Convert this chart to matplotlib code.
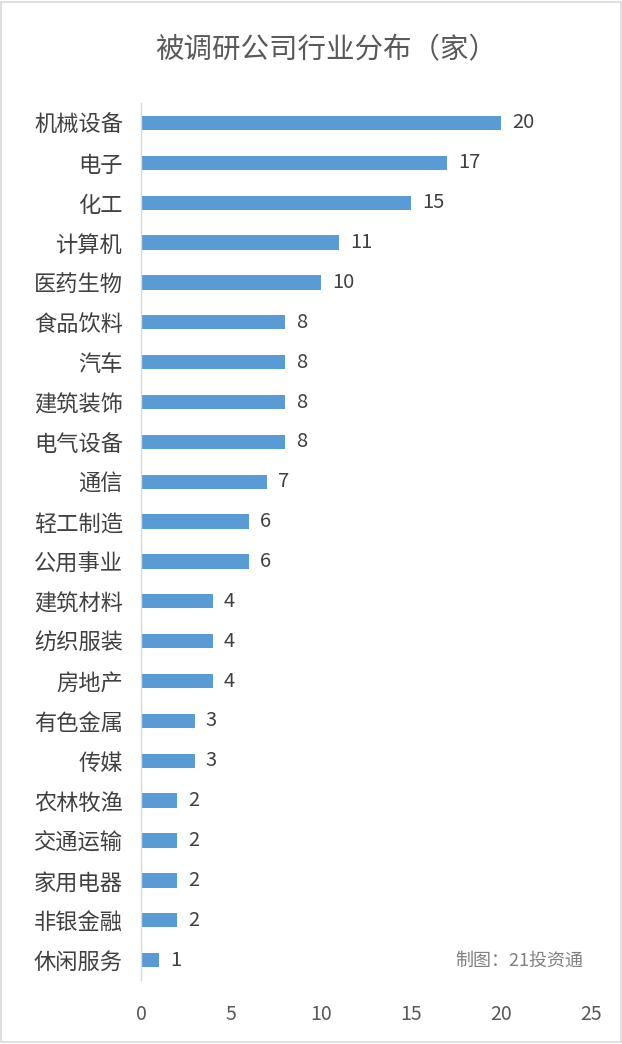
import matplotlib
matplotlib.use('agg')
import matplotlib.pyplot as plt
from matplotlib.patches import Rectangle

plt.rcParams['font.family'] = ['Noto Sans CJK SC', 'DejaVu Sans']

# data
industries = ["机械设备", "电子", "化工", "计算机", "医药生物", "食品饮料", "汽车",
              "建筑装饰", "电气设备", "通信", "轻工制造", "公用事业", "建筑材料",
              "纺织服装", "房地产", "有色金属", "传媒", "农林牧渔", "交通运输",
              "家用电器", "非银金融", "休闲服务"]
counts = [20, 17, 15, 11, 10, 8, 8, 8, 8, 7, 6, 6, 4, 4, 4, 3, 3, 2, 2, 2, 2, 1]
x_ticks = [0, 5, 10, 15, 20, 25]

bar_color = "#5b9bd5"
text_color = "#404040"

fig = plt.figure(figsize=(6.22, 10.44), dpi=100)
ax = fig.add_axes([0.2267, 0.0613, 0.7235, 0.84])

y_pos = list(range(len(industries)))
ax.barh(y_pos, counts, height=0.36, color=bar_color)
for y, v in zip(y_pos, counts):
    ax.text(v + 0.6, y, str(v), va='center', ha='left', fontsize=14.5, color=text_color)

ax.set_ylim(len(industries) - 0.5, -0.5)
ax.set_xlim(0, 25)
ax.set_yticks(y_pos)
ax.set_yticklabels(industries, fontsize=16, color=text_color)
ax.set_xticks(x_ticks)
ax.set_xticklabels([str(t) for t in x_ticks], fontsize=14, color="#595959")
ax.tick_params(axis='both', length=0)
ax.tick_params(axis='y', pad=13)
ax.tick_params(axis='x', pad=17)
for side in ['top', 'right', 'bottom']:
    ax.spines[side].set_visible(False)
ax.spines['left'].set_color('#d9d9d9')
ax.spines['left'].set_linewidth(1)

fig.text(0.524, 0.952, "被调研公司行业分布（家）", ha='center', va='center',
         fontsize=20.5, color="#595959")
fig.text(0.937, 0.0795, "制图：21投资通", ha='right', va='center',
         fontsize=13, color="#808080")

# light frame round the picture
fig.patches.append(Rectangle((0.002, 0.002), 0.996, 0.996, transform=fig.transFigure,
                             fill=False, edgecolor="#d9d9d9", linewidth=1.2))

plt.savefig("out.png", dpi=100)
plt.close(fig)
